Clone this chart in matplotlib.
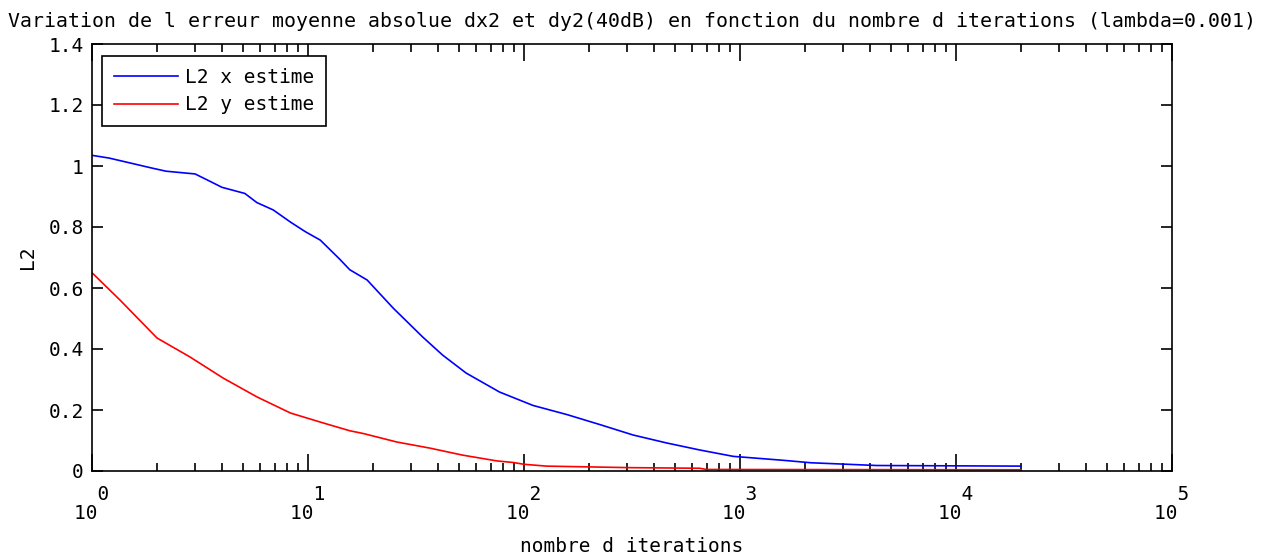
import numpy as np
import matplotlib.pyplot as plt
from matplotlib.ticker import LogLocator, NullFormatter

plt.rcParams['font.family'] = ['DejaVu Sans Mono']

# courbe L2 x estime
iter_x = [1, 1.2, 1.5, 1.9, 2.2, 2.7, 3, 3.4, 4, 4.8, 5.1, 5.8, 6.9, 8.3, 9.7,
          11.4, 14, 15.6, 18.8, 24.8, 34, 42, 54, 77, 110, 158, 225, 320, 457,
          650, 930, 1590, 2130, 4300, 20000]
l2_x = [1.035, 1.026, 1.01, 0.993, 0.983, 0.977, 0.974, 0.955, 0.93, 0.915, 0.91,
        0.88, 0.856, 0.816, 0.785, 0.757, 0.695, 0.66, 0.626, 0.534, 0.439, 0.38,
        0.321, 0.259, 0.215, 0.185, 0.152, 0.118, 0.092, 0.069, 0.048, 0.035,
        0.027, 0.018, 0.016]

# courbe L2 y estime
iter_y = [1, 1.35, 2, 2.84, 4.04, 5.8, 8.3, 11.7, 15.6, 18, 25.8, 36.7, 52, 75,
          89, 100, 127, 310, 650, 700, 20000]
l2_y = [0.65, 0.56, 0.436, 0.374, 0.305, 0.243, 0.19, 0.158, 0.132, 0.123, 0.095,
        0.075, 0.052, 0.033, 0.028, 0.022, 0.016, 0.011, 0.009, 0.005, 0.004]

exposants = [0, 1, 2, 3, 4, 5]
yticks = [0, 0.2, 0.4, 0.6, 0.8, 1, 1.2, 1.4]
ylabels = ['0', '0.2', '0.4', '0.6', '0.8', '1', '1.2', '1.4']

fig = plt.figure(figsize=(12.63, 5.56), dpi=100)
ax = fig.add_axes([92/1263, 85/556, 1080/1263, 427/556])

ax.semilogx(iter_x, l2_x, color='b', lw=1.2, label='L2 x estime')
ax.semilogx(iter_y, l2_y, color='r', lw=1.2, label='L2 y estime')

ax.set_xlim(1, 1e5)
ax.set_ylim(0, 1.4)

# ticks style matlab
ax.set_xticks([10**k for k in exposants])
ax.set_xticklabels(['  %d\n10 ' % k for k in exposants], fontsize=14, linespacing=1.0)
ax.xaxis.set_minor_locator(LogLocator(base=10, subs=np.arange(2, 10), numticks=20))
ax.xaxis.set_minor_formatter(NullFormatter())
ax.set_yticks(yticks)
ax.set_yticklabels(ylabels, fontsize=14)

ax.tick_params(which='both', direction='in', top=True, right=True, width=1.2)
ax.tick_params(axis='x', which='major', length=12, pad=10)
ax.tick_params(axis='x', which='minor', length=6)
ax.tick_params(axis='y', which='major', length=8, pad=6)
for s in ax.spines.values():
    s.set_linewidth(1.2)

ax.set_xlabel('nombre d iterations', fontsize=14, labelpad=10)
ax.set_ylabel('L2', fontsize=14, labelpad=8)
ax.set_title('Variation de l erreur moyenne absolue dx2 et dy2(40dB) en fonction du nombre d iterations (lambda=0.001)',
             fontsize=14.3, pad=12)

leg = ax.legend(loc='upper left', bbox_to_anchor=(0.0095, 0.972), fontsize=14,
                fancybox=False, framealpha=1, edgecolor='k', handlelength=3.3,
                borderaxespad=0, labelspacing=0.45, borderpad=0.6, handletextpad=0.35)
leg.get_frame().set_linewidth(1.2)

fig.savefig('out.png', dpi=100)
